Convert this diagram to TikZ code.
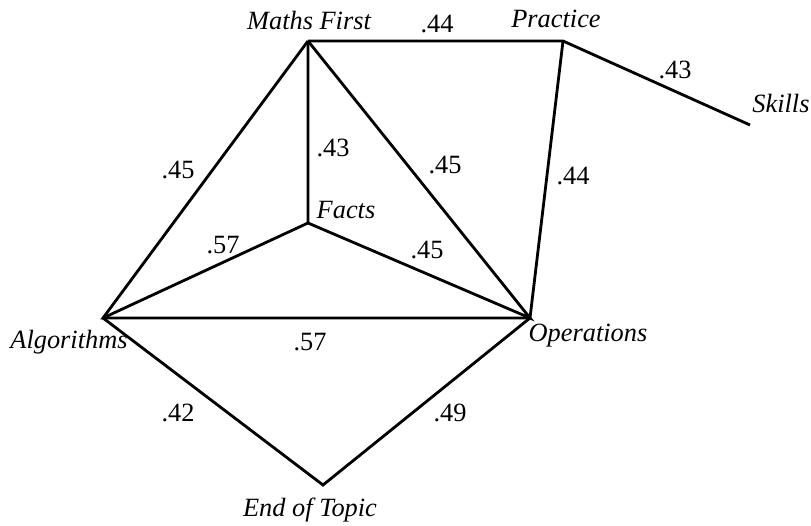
\documentclass[tikz,border=0pt]{standalone}
\usepackage{fontspec}
\setmainfont{Liberation Serif}
\usepackage{tikz}

\begin{document}
\begin{tikzpicture}[x=0.02cm, y=-0.02cm, line width=1.6pt,
		topic/.style={font=\rmfamily\fontsize{15}{17}\selectfont\itshape},
		corr/.style={font=\rmfamily\fontsize{15}{17}\selectfont}]
		\useasboundingbox (0,0) rectangle (811,526);
		% topics
		\coordinate (maths) at (308,41);
		\coordinate (practice) at (563,41);
		\coordinate (skills) at (750,125);
		\coordinate (facts) at (308,223);
		\coordinate (algo) at (103,318);
		\coordinate (oper) at (530,318);
		\coordinate (endtopic) at (323,485);

		\node[topic] (mathsL) at (309,20) {Maths First};
		\node[topic] (practiceL) at (556,19) {Practice};
		\node[topic] (skillsL) at (781,103) {Skills};
		\node[topic] (factsL) at (346,210) {Facts};
		\node[topic] (algoL) at (69,342) {Algorithms};
		\node[topic] (operL) at (588,336) {Operations};
		\node[topic] (endtopicL) at (310,510) {End of Topic};

		\draw (maths) -- (practice) -- (skills);
		\draw (maths) -- (algo) -- (oper) -- (practice);
		\draw (maths) -- (facts) -- (algo);
		\draw (facts) -- (oper) -- (maths);
		\draw (algo) -- (endtopic) -- (oper);

		% correlations
		\node[corr] (c1) at (437,24) {.44};
		\node[corr] (c2) at (675,70) {.43};
		\node[corr] (c3) at (178,170) {.45};
		\node[corr] (c4) at (333,148) {.43};
		\node[corr] (c5) at (445,165) {.45};
		\node[corr] (c6) at (573,176) {.44};
		\node[corr] (c7) at (223,245) {.57};
		\node[corr] (c8) at (427,250) {.45};
		\node[corr] (c9) at (310,342) {.57};
		\node[corr] (c10) at (178,413) {.42};
		\node[corr] (c11) at (450,413) {.49};
	\end{tikzpicture}
\end{document}
